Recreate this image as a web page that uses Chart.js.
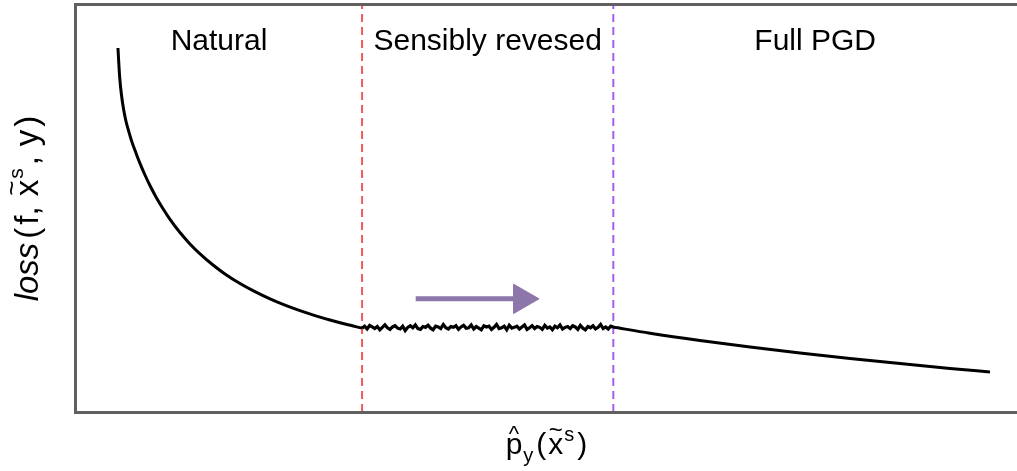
<!DOCTYPE html>
<html>
<head>
<meta charset="utf-8">
<script src="https://cdn.jsdelivr.net/npm/chart.js@4.4.1/dist/chart.umd.min.js"></script>
<style>
  html, body { margin: 0; padding: 0; background: #fff; }
  #wrap { width: 1017px; height: 471px; }
</style>
</head>
<body>
<div id="wrap"><canvas id="lossChart"></canvas></div>
<script>
// --- Datos de la curva (escala 0-100 en ambos ejes) ---
const naturalX = [4.46, 4.54, 4.65, 4.82, 5.07, 5.33, 5.58, 5.95, 6.38, 6.80, 7.33, 7.86, 8.50, 9.25, 9.99,
  11.05, 12.11, 13.18, 14.56, 15.83, 17.43, 19.02, 20.62, 22.21, 23.80, 25.40, 26.99, 28.69, 30.39];
const naturalY = [89.43, 86.00, 82.06, 78.13, 74.20, 71.25, 69.16, 66.31, 63.59, 61.08, 58.23, 55.65, 52.85, 49.94, 47.35,
  44.10, 41.30, 38.87, 36.12, 33.93, 31.57, 29.56, 27.79, 26.24, 24.89, 23.69, 22.60, 21.55, 20.61];

// tramo "sensibly reversed": valores ruidosos leidos a ojo
const noisyY = [20.6, 21.1, 20.4, 21.3, 20.9, 20.5, 21.0, 20.2, 20.8, 21.4, 20.7, 20.3, 20.9, 21.2, 20.6, 20.4, 21.1, 20.0, 20.8, 21.2,
  20.7, 21.4, 20.5, 20.3, 21.0, 20.8, 21.3, 20.6, 20.2, 21.1, 20.9, 20.5, 21.5, 20.7, 20.4, 21.0, 20.8, 21.2, 20.3, 20.9,
  21.3, 20.6, 20.7, 21.4, 20.4, 21.0, 20.6, 20.2, 21.2, 20.9, 21.1, 20.3, 20.8, 21.5, 20.5, 20.7, 21.1, 20.2, 21.3, 20.6,
  20.8, 21.1, 20.4, 20.9, 21.4, 20.3, 20.7, 21.2, 20.5, 21.0, 20.8, 20.3, 21.3, 20.6, 20.9, 20.2, 21.1, 20.7, 21.4, 20.4,
  20.8, 21.0, 20.5, 21.2, 20.9, 20.3, 21.3, 20.6, 20.2, 21.0, 20.7, 21.2, 20.4, 20.8, 21.5, 20.5, 20.9, 20.4, 21.1, 20.9];

const pgdX = [57.07, 61.00, 66.31, 71.63, 76.94, 82.25, 87.57, 92.88, 97.13];
const pgdY = [20.88, 19.36, 17.57, 15.97, 14.50, 13.14, 11.89, 10.71, 9.83];

const regionNames = ['Natural', 'Sensibly revesed', 'Full PGD'];
const regionBounds = [30.4, 57.1];
const boundColors = ['#ef5a5a', '#a35ef2'];

const arrowX = [36.1, 47.4];
const arrowY = 27.8;

// --- Construccion de puntos ---
const naturalPts = naturalX.map((x, i) => ({ x: x, y: naturalY[i] }));
const noisyStep = (regionBounds[1] - regionBounds[0]) / (noisyY.length - 1);
const noisyPts = noisyY.map((y, i) => ({ x: regionBounds[0] + i * noisyStep, y: y }));
const pgdPts = pgdX.map((x, i) => ({ x: x, y: pgdY[i] }));

function drawRich(ctx, parts, cx, baseY) {
    let total = 0;
    parts.forEach(p => {
        ctx.font = p.font;
        p.w = ctx.measureText(p.text).width;
        total += p.w + (p.gap || 0);
    });
    let x = cx - total / 2;
    parts.forEach(p => {
        ctx.font = p.font;
        ctx.textAlign = 'left';
        ctx.fillText(p.text, x, baseY + (p.dy || 0));
        if (p.accent) {
            ctx.font = p.accentFont;
            ctx.textAlign = 'center';
            ctx.fillText(p.accent, x + p.w / 2 + (p.accentDx || 0), baseY + p.accentDy);
        }
        x += p.w + (p.gap || 0);
    });
}

const FONT = '"Liberation Sans", Arial, sans-serif';

const framePlugin = {
    id: 'frame',
    afterDraw(chart) {
        const { ctx, chartArea: a, scales } = chart;
        ctx.save();
        ctx.strokeStyle = '#606060';
        ctx.lineWidth = 3;
        ctx.beginPath();
        ctx.moveTo(a.right + 4, a.top - 0.5);
        ctx.lineTo(a.left - 0.5, a.top - 0.5);
        ctx.lineTo(a.left - 0.5, a.bottom + 0.5);
        ctx.lineTo(a.right + 4, a.bottom + 0.5);
        ctx.stroke();

        // nombres de las regiones
        ctx.fillStyle = '#000';
        ctx.font = '30px ' + FONT;
        ctx.textAlign = 'center';
        ctx.textBaseline = 'alphabetic';
        const edges = [scales.x.min, ...regionBounds, scales.x.max];
        regionNames.forEach((name, i) => {
            const mid = (scales.x.getPixelForValue(edges[i]) + scales.x.getPixelForValue(edges[i + 1])) / 2;
            ctx.fillText(name, mid, a.top + 45);
        });

        // etiqueta eje x: p^_y(x~^s)
        const big = '30px ' + FONT, small = '20px ' + FONT;
        drawRich(ctx, [
            { text: 'p', font: big, accent: '^', accentFont: '22px ' + FONT, accentDy: -13, gap: 1 },
            { text: 'y', font: small, dy: 8, gap: 3 },
            { text: '(', font: big, gap: 2 },
            { text: 'x', font: big, accent: '~', accentFont: '24px ' + FONT, accentDy: -16, gap: 1 },
            { text: 's', font: small, dy: -13, gap: 3 },
            { text: ')', font: big }
        ], (a.left + a.right) / 2, a.bottom + 42);

        // etiqueta eje y: loss(f, x~^s, y)
        const bigY = '33px ' + FONT, smallY = '21px ' + FONT;
        ctx.translate(38, (a.top + a.bottom) / 2);
        ctx.rotate(-Math.PI / 2);
        drawRich(ctx, [
            { text: 'loss', font: 'italic 33px ' + FONT, gap: 4 },
            { text: '(', font: bigY, gap: 3 },
            { text: 'f,', font: bigY, gap: 10 },
            { text: 'x', font: bigY, accent: '~', accentFont: '26px ' + FONT, accentDy: -18, gap: 1 },
            { text: 's', font: smallY, dy: -15, gap: 3 },
            { text: ',', font: bigY, gap: 10 },
            { text: 'y', font: bigY, gap: 3 },
            { text: ')', font: bigY }
        ], 0, 0);
        ctx.restore();
    }
};

const boundDatasets = regionBounds.map((b, i) => ({
    data: [{ x: b, y: 0 }, { x: b, y: 100 }],
    borderColor: boundColors[i],
    borderWidth: 2,
    borderDash: [8, 5],
    pointRadius: 0,
    order: 3
}));

new Chart(document.getElementById('lossChart'), {
    type: 'line',
    data: {
        datasets: [
            ...boundDatasets,
            {
                data: naturalPts,
                borderColor: '#000',
                borderWidth: 3,
                cubicInterpolationMode: 'monotone',
                pointRadius: 0,
                order: 1
            },
            {
                data: noisyPts,
                borderColor: '#000',
                borderWidth: 3.2,
                tension: 0,
                pointRadius: 0,
                order: 1
            },
            {
                data: pgdPts,
                borderColor: '#000',
                borderWidth: 3,
                cubicInterpolationMode: 'monotone',
                pointRadius: 0,
                order: 1
            },
            {
                data: arrowX.map(x => ({ x: x, y: arrowY })),
                borderColor: '#8d77aa',
                borderWidth: 5,
                pointRadius: [0, 17],
                pointStyle: 'triangle',
                rotation: 90,
                pointBackgroundColor: '#8d77aa',
                pointBorderColor: '#8d77aa',
                pointBorderWidth: 1,
                order: 2
            }
        ]
    },
    options: {
        responsive: true,
        maintainAspectRatio: false,
        animation: false,
        events: [],
        layout: { autoPadding: false, padding: { left: 76, top: 5, right: 0, bottom: 59 } },
        plugins: {
            legend: { display: false },
            tooltip: { enabled: false }
        },
        scales: {
            x: { type: 'linear', min: 0, max: 100, display: false },
            y: { min: 0, max: 100, display: false }
        }
    },
    plugins: [framePlugin]
});
</script>
</body>
</html>
